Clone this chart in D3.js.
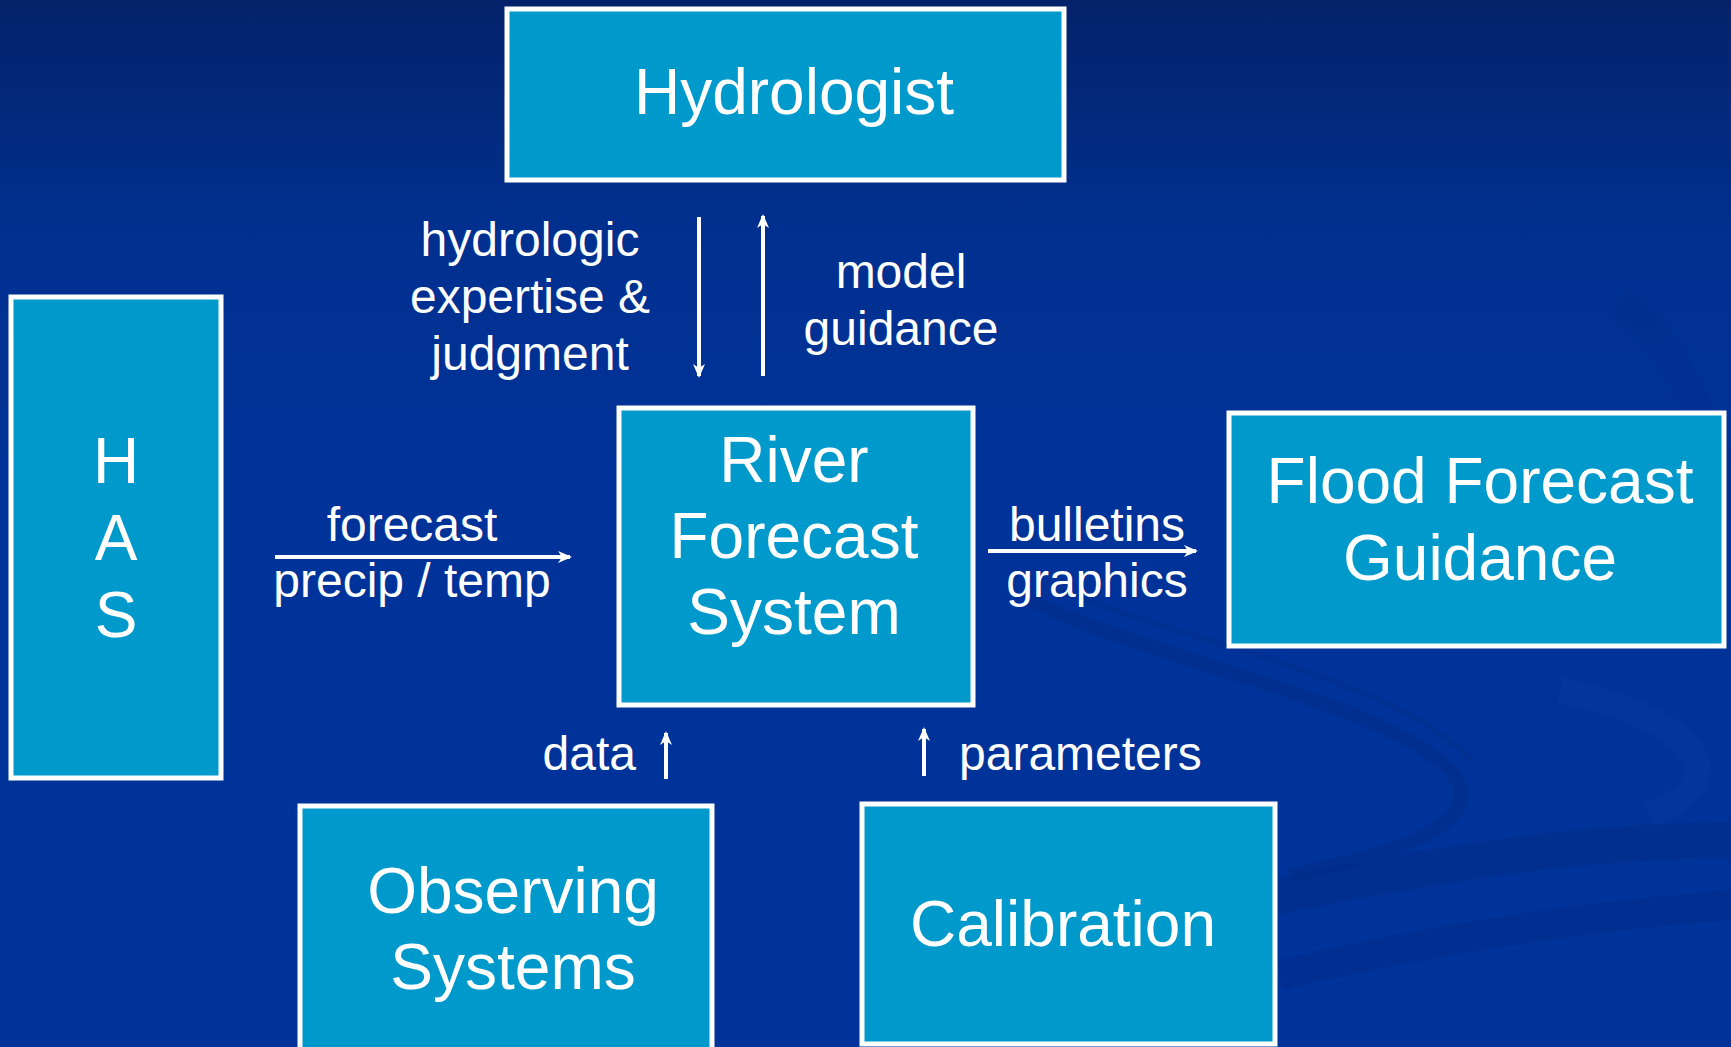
<!DOCTYPE html>
<html>
<head>
<meta charset="utf-8">
<script src="https://cdn.jsdelivr.net/npm/d3@7"></script>
<style>
  body { margin: 0; background: #003399; }
  svg { display: block; }
  text { font-family: "Liberation Sans", Arial, sans-serif; fill: #fff; }
</style>
</head>
<body>
<div id="chart-area"></div>
<script>
const WIDTH = 1731
const HEIGHT = 1047

// boxes (text lines)
const boxIds = ["hydro", "has", "rfs", "ffg", "obs", "cal"]
const boxLines = [
	["Hydrologist"],
	["H", "A", "S"],
	["River", "Forecast", "System"],
	["Flood Forecast", "Guidance"],
	["Observing", "Systems"],
	["Calibration"]
]

// arrow labels
const labelIds = ["expertise", "guidanceUp", "precip", "bulletins", "data", "params"]
const labelLines = [
	["hydrologic", "expertise &", "judgment"],
	["model", "guidance"],
	["forecast", "precip / temp"],
	["bulletins", "graphics"],
	["data"],
	["parameters"]
]

// layout (px) - kept apart from the content above
const boxLayout = {
	hydro: { x: 507, y: 9,   w: 557, h: 171, cx: 794,  base: [114],           size: 64 },
	has:   { x: 11,  y: 297, w: 210, h: 481, cx: 116,  base: [483, 560, 637], size: 64 },
	rfs:   { x: 619, y: 408, w: 354, h: 297, cx: 794,  base: [482, 558, 634], size: 64 },
	ffg:   { x: 1229,y: 413, w: 495, h: 233, cx: 1480, base: [503, 580],      size: 64 },
	obs:   { x: 300, y: 806, w: 412, h: 260, cx: 513,  base: [913, 989],      size: 64 },
	cal:   { x: 862, y: 804, w: 413, h: 240, cx: 1063, base: [946],           size: 64 }
}
const labelLayout = {
	expertise:  { x: 530,  base: [256, 313, 370], anchor: "middle" },
	guidanceUp: { x: 901,  base: [288, 345],      anchor: "middle" },
	precip:     { x: 412,  base: [541, 597],      anchor: "middle" },
	bulletins:  { x: 1097, base: [541, 597],      anchor: "middle" },
	data:       { x: 636,  base: [770],           anchor: "end" },
	params:     { x: 959,  base: [770],           anchor: "start" }
}
// arrows [x1, y1, x2, y2]
const arrows = [
	[699, 217, 699, 376],
	[763, 376, 763, 216],
	[275, 557, 570, 557],
	[988, 551, 1196, 551],
	[666, 779, 666, 733],
	[924, 776, 924, 729]
]

const svg = d3.select("#chart-area").append("svg")
	.attr("width", WIDTH)
	.attr("height", HEIGHT)

const defs = svg.append("defs")
const bg = defs.append("linearGradient")
	.attr("id", "bg")
	.attr("x1", 0).attr("y1", 0).attr("x2", 0).attr("y2", 1)
bg.append("stop").attr("offset", "0%").attr("stop-color", "#04226a")
bg.append("stop").attr("offset", "22%").attr("stop-color", "#00308f")
bg.append("stop").attr("offset", "45%").attr("stop-color", "#003399")
bg.append("stop").attr("offset", "100%").attr("stop-color", "#003399")

defs.append("marker")
	.attr("id", "head")
	.attr("viewBox", "0 -6 14 12")
	.attr("refX", 12)
	.attr("refY", 0)
	.attr("markerWidth", 14)
	.attr("markerHeight", 12)
	.attr("markerUnits", "userSpaceOnUse")
	.attr("orient", "auto")
	.append("path")
	.attr("d", "M0,-6 L14,0 L0,6 L4,0 Z")
	.attr("fill", "#fff")

svg.append("rect")
	.attr("width", WIDTH)
	.attr("height", HEIGHT)
	.attr("fill", "url(#bg)")

// faint swooshes in the background
const swoosh = svg.append("g").attr("fill", "none")
swoosh.append("path")
	.attr("d", "M1030,600 C1150,660 1380,700 1450,770 C1490,815 1420,850 1290,875")
	.attr("stroke", "#002a85").attr("stroke-width", 14).attr("opacity", 0.45)
swoosh.append("path")
	.attr("d", "M1060,590 C1180,640 1400,680 1470,760")
	.attr("stroke", "#002a85").attr("stroke-width", 6).attr("opacity", 0.3)
swoosh.append("path")
	.attr("d", "M1260,900 C1450,860 1600,840 1731,840")
	.attr("stroke", "#002b88").attr("stroke-width", 36).attr("opacity", 0.5)
swoosh.append("path")
	.attr("d", "M1280,975 C1450,935 1600,915 1731,905")
	.attr("stroke", "#002b88").attr("stroke-width", 30).attr("opacity", 0.45)
swoosh.append("path")
	.attr("d", "M1560,690 C1700,720 1740,780 1650,815")
	.attr("stroke", "#0a3da8").attr("stroke-width", 26).attr("opacity", 0.3)
swoosh.append("path")
	.attr("d", "M1620,300 C1690,360 1720,450 1731,520")
	.attr("stroke", "#002d8c").attr("stroke-width", 30).attr("opacity", 0.35)

// boxes
const boxes = svg.selectAll("g.box")
	.data(boxIds.map((id, i) => ({ id, lines: boxLines[i], ...boxLayout[id] })))
	.join("g")
	.attr("class", "box")

boxes.append("rect")
	.attr("x", d => d.x)
	.attr("y", d => d.y)
	.attr("width", d => d.w)
	.attr("height", d => d.h)
	.attr("fill", "#0099cc")
	.attr("stroke", "#fff")
	.attr("stroke-width", 5)

boxes.each(function(d) {
	d3.select(this).selectAll("text")
		.data(d.lines)
		.join("text")
		.attr("x", d.cx)
		.attr("y", (t, j) => d.base[j])
		.attr("text-anchor", "middle")
		.attr("font-size", d.size)
		.text(t => t)
})

// arrows
svg.selectAll("line.arrow")
	.data(arrows)
	.join("line")
	.attr("class", "arrow")
	.attr("x1", d => d[0])
	.attr("y1", d => d[1])
	.attr("x2", d => d[2])
	.attr("y2", d => d[3])
	.attr("stroke", "#fff")
	.attr("stroke-width", 4)
	.attr("marker-end", "url(#head)")

// arrow labels
const labels = svg.selectAll("g.label")
	.data(labelIds.map((id, i) => ({ id, lines: labelLines[i], ...labelLayout[id] })))
	.join("g")
	.attr("class", "label")

labels.each(function(d) {
	d3.select(this).selectAll("text")
		.data(d.lines)
		.join("text")
		.attr("x", d.x)
		.attr("y", (t, j) => d.base[j])
		.attr("text-anchor", d.anchor)
		.attr("font-size", 48)
		.text(t => t)
})
</script>
</body>
</html>
